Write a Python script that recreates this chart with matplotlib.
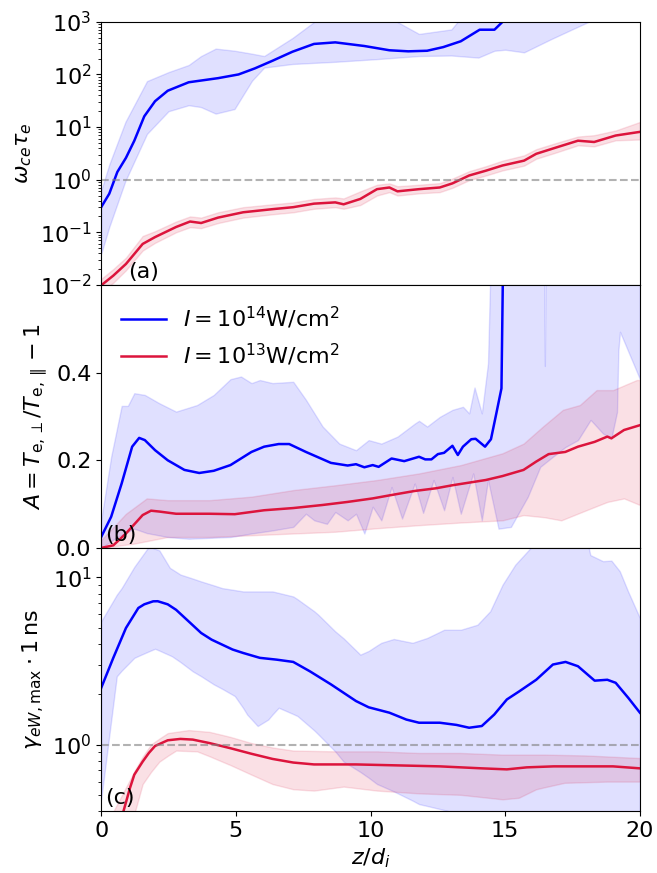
import numpy as np
import matplotlib.pyplot as plt

# ---- panel (a): omega_ce tau_e
xa_hi = [0, 0.3, 0.6, 0.92, 1.23, 1.6, 2.0, 2.47, 3.25, 4.34, 5.1, 5.7, 6.36, 7.1, 7.9, 8.69, 9.77, 10.7, 11.4, 12.1, 12.7, 13.35, 14.05, 14.6, 14.9, 15.2, 16, 18, 20]
wa_hi = [0.30, 0.54, 1.4, 2.6, 5.5, 16, 31, 49, 71, 85, 100, 130, 182, 270, 380, 407, 347, 288, 275, 282, 331, 427, 708, 708, 1000, 3000, 1e4, 1e4, 1e4]
xa_hi_up = [0, 0.45, 0.92, 1.62, 2.47, 3.09, 4.34, 4.96, 6.05, 7.13, 7.75, 8.5, 10.0, 10.6, 11.2, 12.0, 12.7, 13.2, 13.5, 14.0, 20]
wa_hi_up = [0.62, 2.6, 13, 71, 110, 126, 324, 282, 224, 500, 1000, 2000, 2000, 1000, 631, 575, 603, 794, 1500, 3000, 3000]
xa_hi_lo = [0, 0.3, 0.9, 1.7, 2.5, 3.25, 3.7, 4.25, 4.95, 5.6, 6.05, 7.1, 8.7, 10.2, 11.8, 13.0, 14.0, 14.6, 15.0, 15.7, 16.7, 17.5, 18.1, 19, 20]
wa_hi_lo = [0.039, 0.126, 0.95, 7.4, 20, 26, 24, 18, 22, 76, 135, 158, 174, 195, 224, 229, 209, 282, 295, 263, 468, 724, 1000, 2000, 3200]

xa_lo = [0, 0.45, 0.92, 1.54, 2.0, 2.78, 3.3, 3.71, 4.34, 5.27, 6.36, 7.13, 7.9, 8.69, 9.0, 9.62, 10.24, 10.7, 11.0, 11.8, 12.57, 13.04, 13.66, 14.28, 14.9, 15.7, 16.15, 16.9, 17.7, 18.3, 19.1, 20]
wa_lo = [0.0098, 0.015, 0.025, 0.060, 0.081, 0.126, 0.16, 0.15, 0.19, 0.24, 0.275, 0.30, 0.35, 0.37, 0.34, 0.43, 0.66, 0.71, 0.60, 0.66, 0.71, 0.85, 1.2, 1.48, 1.86, 2.3, 3.1, 4.1, 5.5, 5.2, 6.9, 8.1]
wa_lo_up = [0.013, 0.02, 0.033, 0.085, 0.105, 0.16, 0.2, 0.19, 0.24, 0.3, 0.34, 0.37, 0.43, 0.46, 0.44, 0.6, 0.8, 0.85, 0.75, 0.8, 0.86, 1.05, 1.45, 1.8, 2.3, 2.9, 3.8, 5.0, 6.6, 7.0, 8.6, 12.5]
wa_lo_lo = [0.007, 0.011, 0.019, 0.045, 0.063, 0.1, 0.125, 0.12, 0.15, 0.19, 0.22, 0.24, 0.28, 0.3, 0.28, 0.33, 0.5, 0.58, 0.5, 0.55, 0.58, 0.7, 0.98, 1.2, 1.5, 1.85, 2.5, 3.3, 4.5, 4.3, 5.6, 5.8]

# ---- panel (b): anisotropy A
xb_hi = [0, 0.37, 0.76, 1.15, 1.41, 1.62, 2.0, 2.47, 3.09, 3.64, 4.18, 4.8, 5.58, 6.05, 6.59, 6.98, 7.6, 8.53, 9.15, 9.46, 9.77, 10.08, 10.3, 10.78, 11.25, 11.8, 12.03, 12.26, 12.5, 12.73, 13.04, 13.24, 13.43, 13.74, 13.9, 14.25, 14.47, 14.67, 14.86, 14.95, 15.2, 20]
ab_hi = [0.025, 0.071, 0.147, 0.231, 0.251, 0.246, 0.223, 0.2, 0.178, 0.171, 0.176, 0.189, 0.219, 0.231, 0.237, 0.237, 0.219, 0.194, 0.188, 0.191, 0.184, 0.189, 0.185, 0.204, 0.198, 0.208, 0.202, 0.202, 0.214, 0.217, 0.233, 0.212, 0.231, 0.248, 0.249, 0.231, 0.248, 0.307, 0.364, 0.8, 5, 5]
xb_hi_up = [0, 0.37, 0.76, 0.99, 1.23, 1.62, 2.16, 2.78, 3.56, 4.18, 4.8, 5.19, 5.58, 5.89, 6.36, 7.13, 7.6, 8.22, 8.84, 9.46, 9.93, 10.4, 11.0, 11.65, 11.8, 12.1, 12.57, 13.04, 13.43, 13.66, 13.86, 14.13, 14.36, 14.6, 16.4, 16.47, 16.54, 20]
ab_hi_up = [0.063, 0.208, 0.324, 0.324, 0.353, 0.349, 0.33, 0.311, 0.326, 0.349, 0.385, 0.391, 0.376, 0.383, 0.376, 0.379, 0.338, 0.277, 0.238, 0.223, 0.246, 0.238, 0.254, 0.284, 0.29, 0.277, 0.299, 0.315, 0.322, 0.307, 0.366, 0.307, 0.421, 1.0, 1.0, 0.415, 1.0, 1.0]
xb_hi_lo = [0, 0.6, 1.23, 1.69, 2.47, 3.25, 4.02, 4.8, 5.58, 6.36, 7.13, 7.6, 7.91, 8.38, 8.69, 9.15, 9.46, 9.77, 10.08, 10.4, 10.78, 11.17, 11.64, 11.95, 12.34, 12.73, 13.04, 13.35, 13.81, 14.13, 14.36, 14.75, 15.21, 15.84, 16.3, 16.77, 17.23, 17.7, 18.17, 18.63, 18.94, 19.15, 19.2, 19.26, 20]
ab_hi_lo = [0, 0.025, 0.044, 0.034, 0.025, 0.021, 0.023, 0.025, 0.033, 0.04, 0.048, 0.078, 0.063, 0.055, 0.082, 0.063, 0.078, 0.033, 0.094, 0.063, 0.139, 0.067, 0.147, 0.08, 0.155, 0.086, 0.162, 0.078, 0.17, 0.063, 0.155, 0.044, 0.048, 0.117, 0.185, 0.208, 0.23, 0.246, 0.292, 0.261, 0.25, 0.31, 0.45, 0.493, 0.385]

xb_lo = [0, 0.45, 0.92, 1.54, 1.85, 2.16, 2.78, 4.02, 4.96, 6.05, 7.13, 8.22, 9.15, 10.08, 10.71, 11.64, 12.42, 13.04, 13.66, 14.28, 14.9, 15.68, 16.15, 16.61, 17.23, 17.7, 18.32, 18.79, 18.94, 19.41, 20]
ab_lo = [0, 0.006, 0.033, 0.075, 0.085, 0.083, 0.078, 0.078, 0.077, 0.086, 0.091, 0.098, 0.105, 0.113, 0.12, 0.13, 0.136, 0.143, 0.149, 0.155, 0.164, 0.178, 0.197, 0.214, 0.219, 0.231, 0.242, 0.254, 0.25, 0.269, 0.280]
xb_lo_up = [0, 0.92, 1.69, 2.47, 4.02, 5.58, 7.13, 8.69, 10.24, 11.8, 13.35, 14.9, 15.68, 16.4, 17.14, 17.77, 18.39, 19.0, 19.88, 20]
ab_lo_up = [0.018, 0.078, 0.113, 0.109, 0.109, 0.117, 0.132, 0.143, 0.155, 0.17, 0.189, 0.216, 0.238, 0.277, 0.315, 0.326, 0.36, 0.36, 0.383, 0.383]
xb_lo_lo = [0, 1.23, 2.47, 4.02, 5.58, 7.13, 8.69, 10.24, 11.8, 13.35, 14.9, 15.68, 16.46, 17.08, 18.01, 18.79, 19.41, 20]
ab_lo_lo = [0, 0.01, 0.025, 0.025, 0.029, 0.033, 0.037, 0.045, 0.052, 0.058, 0.063, 0.075, 0.07, 0.063, 0.086, 0.105, 0.113, 0.098]

# ---- panel (c): gamma_eW,max * 1 ns
xc_hi = [0, 0.45, 0.92, 1.38, 1.6, 1.93, 2.1, 2.47, 2.78, 3.33, 3.71, 4.1, 4.49, 4.88, 5.27, 5.89, 6.51, 7.13, 7.75, 8.53, 9.46, 9.93, 10.7, 11.33, 11.8, 12.57, 13.19, 13.66, 14.13, 14.59, 15.06, 15.52, 16.15, 16.77, 17.24, 17.7, 18.32, 18.79, 19.1, 19.57, 20]
gc_hi = [2.18, 3.30, 4.98, 6.56, 6.9, 7.19, 7.2, 6.9, 6.4, 5.3, 4.65, 4.24, 3.96, 3.7, 3.53, 3.30, 3.22, 3.12, 2.74, 2.29, 1.82, 1.67, 1.55, 1.41, 1.35, 1.35, 1.31, 1.26, 1.29, 1.51, 1.86, 2.08, 2.44, 3.01, 3.12, 2.94, 2.41, 2.44, 2.34, 1.90, 1.55]
xc_hi_up = [0, 0.76, 1.38, 1.77, 2.16, 2.55, 2.94, 3.71, 4.49, 5.27, 6.36, 7.13, 7.91, 8.69, 9.62, 9.93, 10.4, 10.86, 11.56, 12.1, 12.73, 13.35, 13.97, 14.44, 14.9, 15.37, 15.99, 16.92, 18.0, 18.16, 18.63, 18.94, 19.25, 19.56, 20]
gc_hi_up = [5.46, 8.63, 12.5, 15.3, 14.5, 11.4, 10.4, 9.46, 8.63, 8.24, 8.24, 7.69, 6.27, 4.75, 3.45, 3.63, 4.06, 4.28, 4.06, 4.34, 4.86, 4.86, 5.21, 6.27, 9.04, 11.9, 15.3, 20, 17.8, 13.6, 12.5, 12.6, 10.9, 8.24, 5.71]
xc_hi_lo = [0, 0.58, 1.23, 2.0, 2.63, 3.4, 4.18, 4.96, 5.42, 5.81, 6.2, 6.59, 7.29, 8.06, 9.0, 10.24, 11.8, 12.88, 14, 20]
gc_hi_lo = [0.47, 2.56, 3.30, 3.74, 3.37, 2.74, 2.29, 1.95, 1.51, 1.29, 1.41, 1.66, 1.48, 1.15, 0.79, 0.58, 0.44, 0.40, 0.3, 0.3]

xc_lo = [0, 0.5, 0.83, 1.07, 1.23, 1.54, 1.77, 2.0, 2.24, 2.47, 2.94, 3.4, 4.02, 4.8, 5.58, 6.36, 7.13, 7.9, 9.46, 11.0, 12.57, 14.13, 15.06, 15.8, 16.8, 18.0, 19.0, 20]
gc_lo = [0.15, 0.28, 0.40, 0.55, 0.66, 0.79, 0.89, 0.98, 1.02, 1.06, 1.08, 1.07, 1.02, 0.95, 0.88, 0.82, 0.78, 0.76, 0.76, 0.75, 0.74, 0.72, 0.71, 0.73, 0.74, 0.74, 0.74, 0.72]
xc_lo_up = [0, 0.46, 1.23, 1.85, 2.47, 3.25, 4.02, 4.8, 5.58, 6.36, 7.13, 8.69, 10.24, 11.8, 13.35, 14.9, 16.46, 18.0, 20]
gc_lo_up = [0.25, 0.40, 0.69, 1.0, 1.17, 1.22, 1.19, 1.11, 1.02, 0.96, 0.92, 0.91, 0.91, 0.89, 0.89, 0.87, 0.87, 0.86, 0.83]
xc_lo_lo = [0, 1.26, 1.54, 2.16, 2.78, 3.56, 4.49, 5.58, 6.36, 7.13, 7.9, 9.0, 10.24, 11.8, 13.35, 14.9, 15.5, 16.15, 17.2, 18.8, 20]
gc_lo_lo = [0.1, 0.40, 0.58, 0.79, 0.92, 0.91, 0.79, 0.66, 0.58, 0.54, 0.53, 0.56, 0.53, 0.51, 0.50, 0.47, 0.48, 0.54, 0.59, 0.60, 0.60]

c_hi = 'blue'
c_lo = 'crimson'
lab_hi = r'$I = 10^{14}$W/cm$^2$'
lab_lo = r'$I = 10^{13}$W/cm$^2$'

plt.rcParams['font.size'] = 16
fig, axs = plt.subplots(3, 1, figsize=(6.57, 8.73), dpi=100)
plt.subplots_adjust(left=0.154, right=0.974, top=0.975, bottom=0.071, hspace=0)

# (a)
ax = axs[0]
ax.fill_between(xa_hi_lo, np.interp(xa_hi_lo, xa_hi_up, wa_hi_up), wa_hi_lo, color=c_hi, alpha=0.12)
ax.fill_between(xa_lo, wa_lo_lo, wa_lo_up, color=c_lo, alpha=0.13)
ax.plot(xa_hi, wa_hi, color=c_hi, lw=1.8)
ax.plot(xa_lo, wa_lo, color=c_lo, lw=1.8)
ax.axhline(1, color='gray', ls='--', lw=1.5, alpha=0.6)
ax.set_yscale('log')
ax.set_ylim(1e-2, 1e3)
ax.set_ylabel(r'$\omega_{ce}\tau_e$')
ax.text(0.05, 0.01, '(a)', transform=ax.transAxes, va='bottom')

# (b)
ax = axs[1]
xb_grid = np.array(sorted(set(xb_hi_up) | set(xb_hi_lo)))
ax.fill_between(xb_grid, np.interp(xb_grid, xb_hi_lo, ab_hi_lo), np.interp(xb_grid, xb_hi_up, ab_hi_up), color=c_hi, alpha=0.12)
xb_grid2 = np.array(sorted(set(xb_lo_up) | set(xb_lo_lo)))
ax.fill_between(xb_grid2, np.interp(xb_grid2, xb_lo_lo, ab_lo_lo), np.interp(xb_grid2, xb_lo_up, ab_lo_up), color=c_lo, alpha=0.13)
ax.plot(xb_hi, ab_hi, color=c_hi, lw=1.8, label=lab_hi)
ax.plot(xb_lo, ab_lo, color=c_lo, lw=1.8, label=lab_lo)
ax.set_ylim(0, 0.6)
ax.set_yticks([0.0, 0.2, 0.4])
ax.set_ylabel(r'$A = T_{\rm e,\perp}/T_{\rm e,\parallel} - 1$')
ax.legend(loc='upper left', frameon=False, fontsize=16)
ax.text(0.008, 0.01, '(b)', transform=ax.transAxes, va='bottom')

# (c)
ax = axs[2]
xc_grid = np.array(sorted(set(xc_hi_up) | set(xc_hi_lo)))
ax.fill_between(xc_grid, np.interp(xc_grid, xc_hi_lo, gc_hi_lo), np.interp(xc_grid, xc_hi_up, gc_hi_up), color=c_hi, alpha=0.12)
xc_grid2 = np.array(sorted(set(xc_lo_up) | set(xc_lo_lo)))
ax.fill_between(xc_grid2, np.interp(xc_grid2, xc_lo_lo, gc_lo_lo), np.interp(xc_grid2, xc_lo_up, gc_lo_up), color=c_lo, alpha=0.13)
ax.plot(xc_hi, gc_hi, color=c_hi, lw=1.8)
ax.plot(xc_lo, gc_lo, color=c_lo, lw=1.8)
ax.axhline(1, color='gray', ls='--', lw=1.5, alpha=0.6)
ax.set_yscale('log')
ax.set_ylim(0.4, 15)
ax.set_ylabel(r'$\gamma_{eW,\rm max}\cdot 1\,{\rm ns}$')
ax.set_xlabel(r'$z/d_i$')
ax.text(0.008, 0.01, '(c)', transform=ax.transAxes, va='bottom')

for ax in axs:
    ax.set_xlim(0, 20)
for ax in axs[:2]:
    ax.tick_params(axis='x', bottom=False, labelbottom=False)
axs[2].set_xticks([0, 5, 10, 15, 20])

plt.savefig('out.png', dpi=100)
